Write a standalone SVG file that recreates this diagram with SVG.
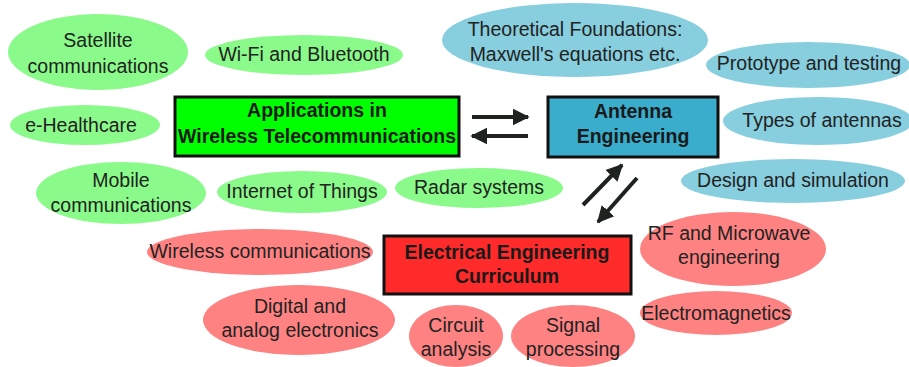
<svg xmlns="http://www.w3.org/2000/svg" width="909" height="367" viewBox="0 0 909 367">
  <defs>
    <marker id="head" viewBox="0 0 10 10" refX="9" refY="5" markerWidth="4.2" markerHeight="4.4" markerUnits="strokeWidth" orient="auto">
      <path d="M0,0 L10,5 L0,10 Z" fill="#1e2320"/>
    </marker>
  </defs>
  <style>
    text { font-family: "Liberation Sans", Arial, sans-serif; font-size: 19.5px; fill: #222; text-anchor: middle; }
    .box text { font-weight: bold; fill: #1a1a1a; }
    .box rect { stroke: #111; stroke-width: 3; }
    .g ellipse { fill: #8afb8a; }
    .b ellipse { fill: #87cedf; }
    .r ellipse { fill: #ff8282; }
    .link { stroke: #1e2320; stroke-width: 4; fill: none; marker-end: url(#head); }
  </style>
  <rect width="909" height="367" fill="#ffffff"/>

  <!-- application topics -->
  <g id="satellite" class="g"><ellipse cx="98" cy="52" rx="90" ry="38"/><text x="98" y="47">Satellite</text><text x="98" y="73">communications</text></g>
  <g id="wifi" class="g"><ellipse cx="304" cy="55" rx="99" ry="20"/><text x="304" y="61">Wi-Fi and Bluetooth</text></g>
  <g id="ehealth" class="g"><ellipse cx="85" cy="125" rx="75" ry="20"/><text x="81" y="132">e-Healthcare</text></g>
  <g id="mobile" class="g"><ellipse cx="121" cy="193" rx="85" ry="31"/><text x="121" y="187">Mobile</text><text x="121" y="212">communications</text></g>
  <g id="iot" class="g"><ellipse cx="302" cy="192" rx="85" ry="21"/><text x="302" y="198">Internet of Things</text></g>
  <g id="radar" class="g"><ellipse cx="479" cy="188" rx="84" ry="20"/><text x="479" y="194">Radar systems</text></g>

  <!-- antenna topics -->
  <g id="theory" class="b"><ellipse cx="575" cy="40" rx="133" ry="37"/><text x="575" y="36">Theoretical Foundations:</text><text x="575" y="61">Maxwell's equations etc.</text></g>
  <g id="prototype" class="b"><ellipse cx="808" cy="65" rx="102" ry="23"/><text x="809" y="70">Prototype and testing</text></g>
  <g id="types" class="b"><ellipse cx="818" cy="121" rx="95" ry="24"/><text x="822" y="127">Types of antennas</text></g>
  <g id="design" class="b"><ellipse cx="793" cy="181" rx="112" ry="22"/><text x="793" y="187">Design and simulation</text></g>

  <!-- curriculum topics -->
  <g id="wireless" class="r"><ellipse cx="260" cy="252" rx="113" ry="23"/><text x="260" y="258">Wireless communications</text></g>
  <g id="rf" class="r"><ellipse cx="733" cy="249" rx="93" ry="37"/><text x="729" y="240">RF and Microwave</text><text x="729" y="264">engineering</text></g>
  <g id="digital" class="r"><ellipse cx="299" cy="320" rx="96" ry="35"/><text x="300" y="313">Digital and</text><text x="300" y="337">analog electronics</text></g>
  <g id="circuit" class="r"><ellipse cx="456" cy="336" rx="47" ry="31"/><text x="456" y="332">Circuit</text><text x="456" y="356">analysis</text></g>
  <g id="signal" class="r"><ellipse cx="573" cy="336" rx="62" ry="31"/><text x="573" y="332">Signal</text><text x="573" y="356">processing</text></g>
  <g id="em" class="r"><ellipse cx="716" cy="313" rx="76" ry="22"/><text x="716" y="320">Electromagnetics</text></g>

  <!-- main blocks -->
  <g id="applications" class="box"><rect x="175" y="97" width="284" height="59" fill="#00ff00"/><text x="317" y="117">Applications in</text><text x="317" y="143">Wireless Telecommunications</text></g>
  <g id="antenna" class="box"><rect x="548" y="97" width="170" height="60" fill="#3aaccc"/><text x="633" y="118">Antenna</text><text x="633" y="143">Engineering</text></g>
  <g id="curriculum" class="box"><rect x="384" y="236" width="247" height="58" fill="#ff2a2a"/><text x="507" y="259">Electrical Engineering</text><text x="507" y="283">Curriculum</text></g>

  <!-- connectors -->
  <g id="connectors">
    <line class="link" x1="472" y1="117" x2="528" y2="117"/>
    <line class="link" x1="528" y1="136" x2="472" y2="136"/>
    <line class="link" x1="583" y1="205" x2="622" y2="165"/>
    <line class="link" x1="637" y1="178" x2="598" y2="222"/>
  </g>
</svg>
